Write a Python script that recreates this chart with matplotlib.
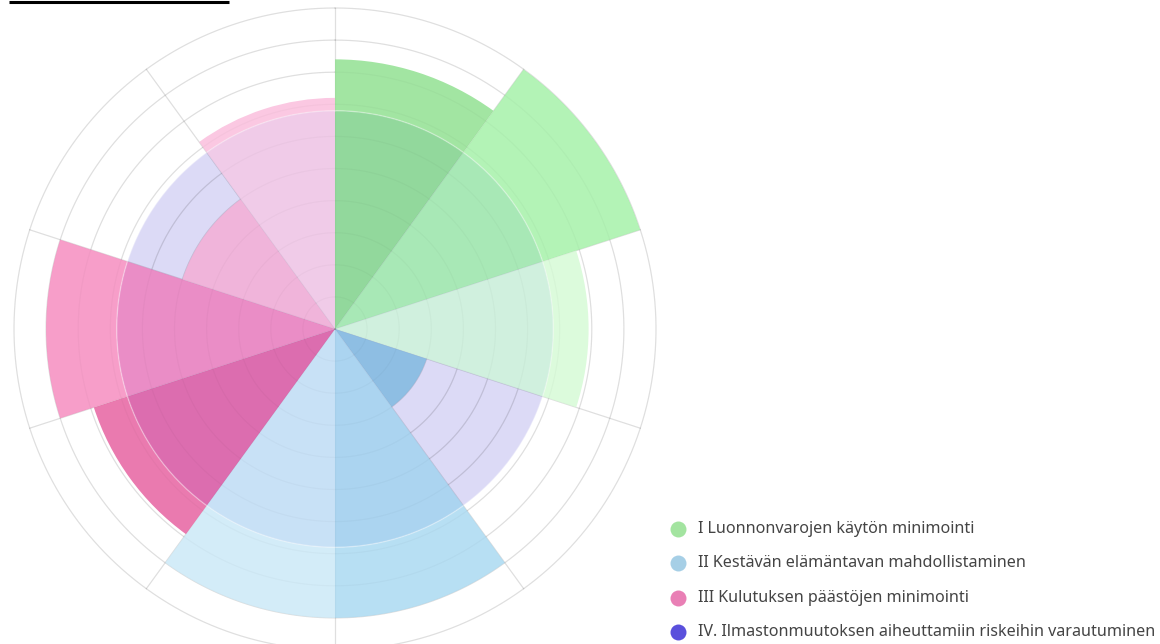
import numpy as np
import matplotlib
matplotlib.use("Agg")
import matplotlib.pyplot as plt
from matplotlib.lines import Line2D

# ---------------- data ----------------
groups = [
    "I Luonnonvarojen käytön minimointi",
    "II Kestävän elämäntavan mahdollistaminen",
    "III Kulutuksen päästöjen minimointi",
    "IV. Ilmastonmuutoksen aiheuttamiin riskeihin varautuminen",
]
# ten sectors, clockwise from the top
slot_values = [8.4, 10.0, 7.9, 3.0, 9.0, 9.0, 7.9, 9.0, 5.0, 7.2]
slot_group = [0, 0, 0, 1, 1, 1, 2, 2, 2, 2]
risk_level = 6.8          # group IV, full circle
r_max = 10

# ---------------- styles ----------------
legend_colors = ["#a3e4a0", "#a6cfe6", "#e97fb5", "#5a50dc"]
inner_colors = ["#92d89c", "#a8e8b6", "#d0f0de", "#8ebee3", "#abd4f0",
                "#c8e1f6", "#dc6daf", "#ea8dc6", "#f0b4da", "#f0cbe8"]
outer_colors = ["#a2e5a2", "#b3f3b6", "#dcfbdc", "#8ebee3", "#b7dff3",
                "#d3ecf8", "#ea7aaf", "#f79ec9", "#f0b4da", "#fbc8e2"]
risk_color = "#dcdaf6"

W, H = 1160, 644
fig = plt.figure(figsize=(W / 100, H / 100), dpi=100)
fig.patch.set_facecolor("white")

cx, cy, R = 335, 329, 321
ax = fig.add_axes([(cx - R) / W, (H - cy - R) / H, 2 * R / W, 2 * R / H],
                  projection="polar")
ax.set_theta_zero_location("N")
ax.set_theta_direction(-1)
ax.set_ylim(0, r_max)
ax.grid(False)
ax.set_xticks([])
ax.set_yticks([])
ax.spines["polar"].set_visible(False)
ax.patch.set_alpha(0)

n = len(slot_values)
width = 2 * np.pi / n
theta = np.arange(n) * width + width / 2
tt = np.linspace(0, 2 * np.pi, 500)


def draw_grid(alpha, z):
    for r in range(1, r_max + 1):
        ax.plot(tt, np.full_like(tt, r), color="black", lw=0.9, alpha=alpha,
                zorder=z, clip_on=False)
    for k in range(n):
        a = k * width
        ax.plot([a, a], [0, r_max], color="black", lw=0.9, alpha=alpha,
                zorder=z, clip_on=False)


# group IV: full circle
ax.bar(0, risk_level, width=2 * np.pi, bottom=0, color=risk_color,
       linewidth=0, zorder=1, align="center")

# grid beneath the sectors (shows over white and group IV)
draw_grid(0.10, 1.5)

inner_h = [min(v, risk_level) for v in slot_values]
ax.bar(theta, inner_h, width=width, bottom=0, color=inner_colors,
       linewidth=0, zorder=2)
for t, v, c in zip(theta, slot_values, outer_colors):
    if v > risk_level:
        ax.bar(t, v - risk_level, width=width, bottom=risk_level, color=c,
               linewidth=0, zorder=2)

# faint light edge of the group IV circle
ax.plot(tt, np.full_like(tt, risk_level), color="white", lw=1.0,
        alpha=0.35, zorder=3)

# very faint grid showing through the sectors
draw_grid(0.025, 4)

# black line at top-left (cut-off heading underline)
fig.add_artist(Line2D([9 / W, 229 / W], [1 - 1.5 / H, 1 - 1.5 / H],
                      color="black", lw=2.2, solid_capstyle="butt"))

# legend
lx, ly0, dy = 678, 529, 34.3
for i, (lab, col) in enumerate(zip(groups, legend_colors)):
    y = 1 - (ly0 + i * dy) / H
    fig.add_artist(Line2D([lx / W], [y], marker="o", markersize=11.5,
                          markerfacecolor=col, markeredgewidth=0,
                          linestyle="none"))
    fig.text(698 / W, y, lab, fontsize=11.6, color="#444444",
             family=["Noto Sans", "DejaVu Sans"], va="center", ha="left")

fig.savefig("out.png", dpi=100, facecolor="white")
